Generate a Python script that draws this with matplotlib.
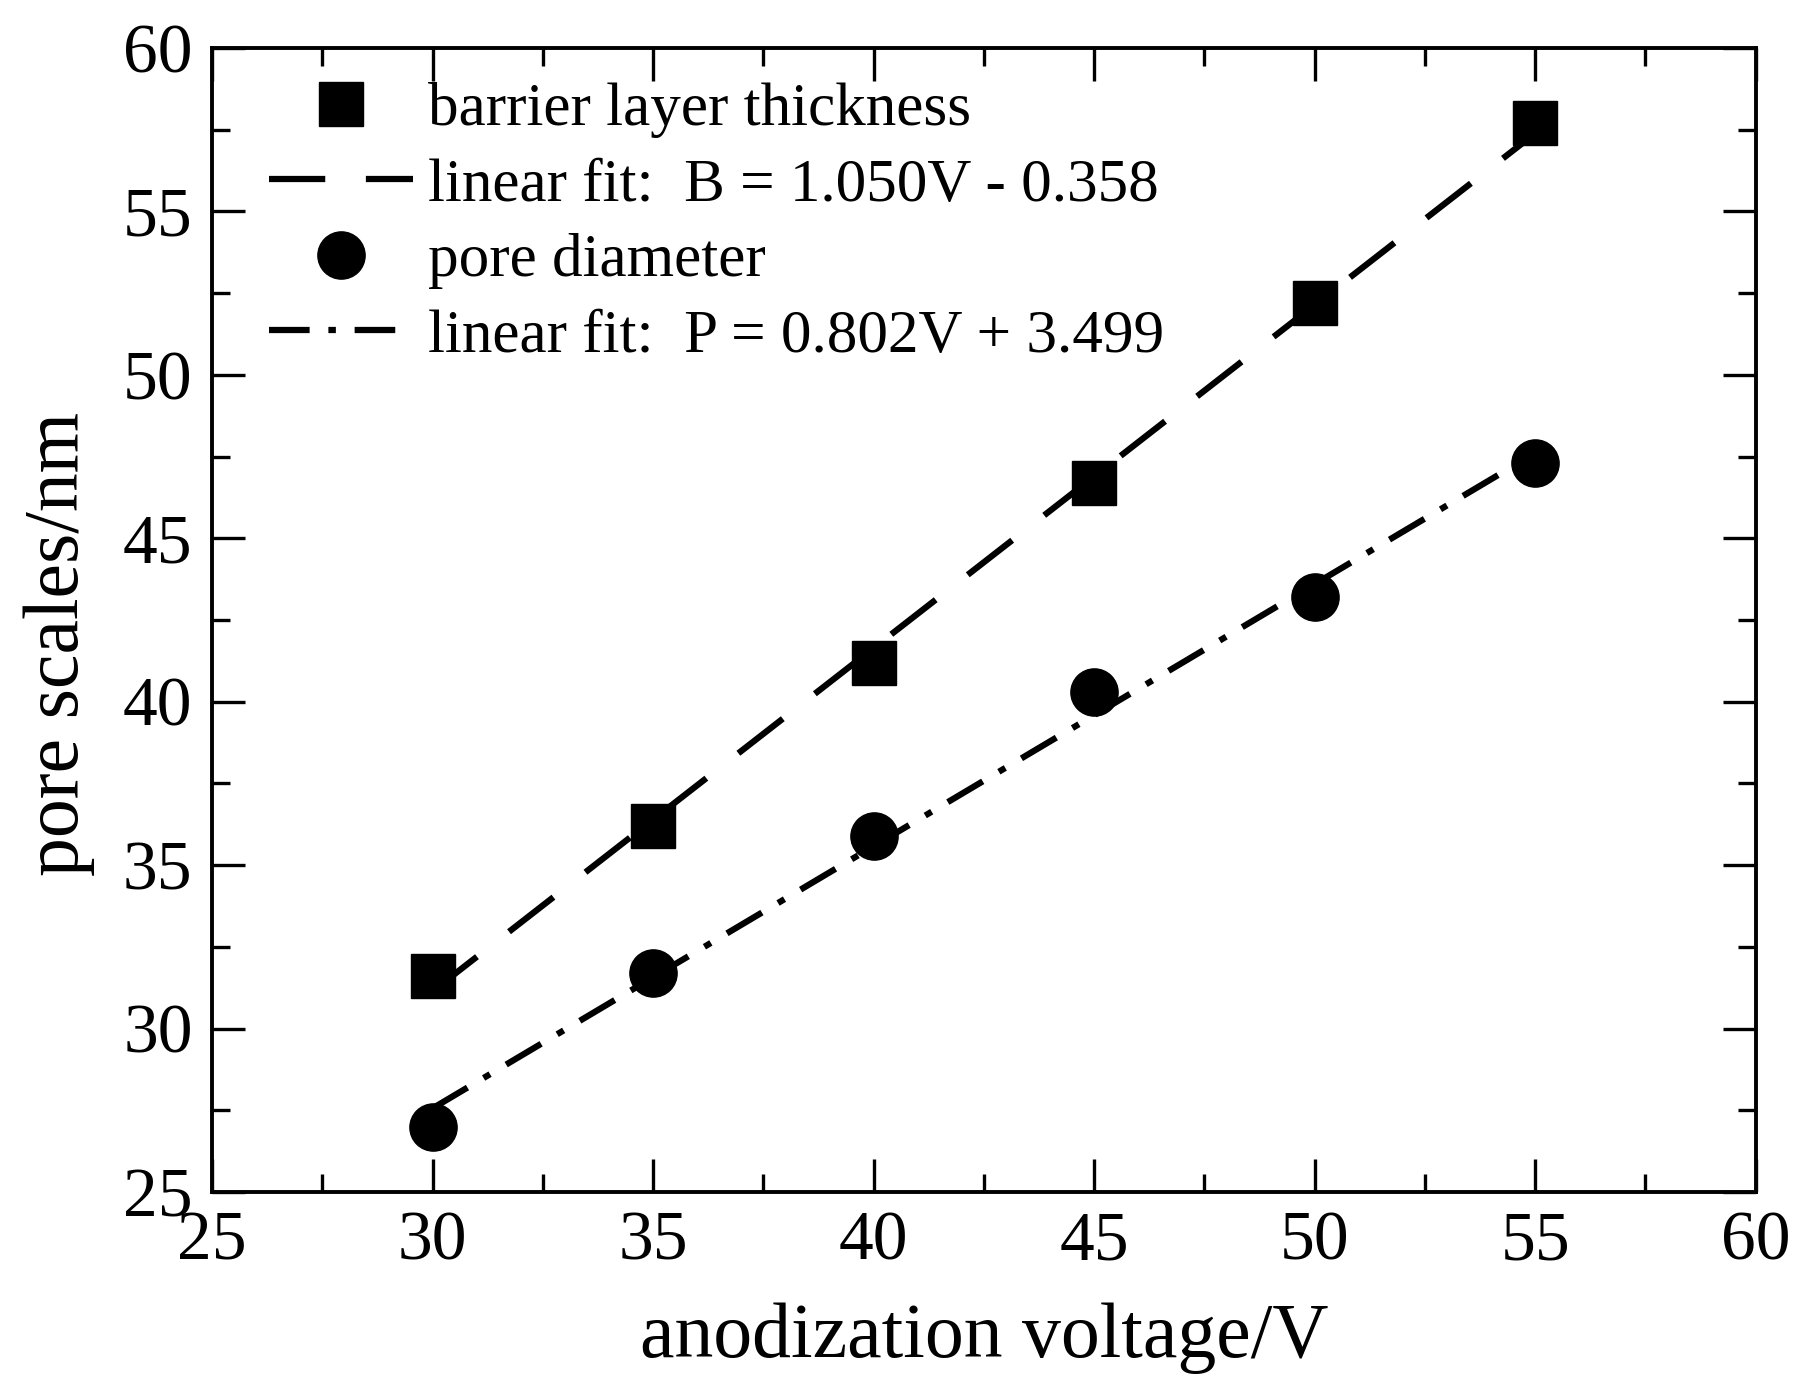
import numpy as np
import matplotlib
matplotlib.use("Agg")
import matplotlib.pyplot as plt
from matplotlib.ticker import MultipleLocator

plt.rcParams['font.family'] = ['Liberation Serif', 'DejaVu Serif']

voltage = [30, 35, 40, 45, 50, 55]
barrier = [31.6, 36.2, 41.2, 46.7, 52.2, 57.7]
pore = [27.0, 31.7, 35.9, 40.3, 43.2, 47.3]

# fit coefficients as printed in the legend
b_slope, b_icpt = 1.050, -0.358
p_slope, p_icpt = 0.802, 3.499

fig = plt.figure(figsize=(17.97, 13.74), dpi=100)
ax = fig.add_axes([0.118, 0.1325, 0.859, 0.8325])

v = np.array([voltage[0], voltage[-1]])
ax.plot(voltage, barrier, 's', color='black', markersize=32, label='barrier layer thickness', zorder=3)
ax.plot(v, b_slope * v + b_icpt, color='black', lw=4.5, dashes=(9, 6.5),
        label='linear fit:  B = 1.050V - 0.358')
ax.plot(voltage, pore, 'o', color='black', markersize=34, label='pore diameter', zorder=3)
ax.plot(v, p_slope * v + p_icpt, color='black', lw=4.5, dashes=(6.5, 3, 1.2, 3),
        label='linear fit:  P = 0.802V + 3.499')

ax.set_xlim(25, 60)
ax.set_ylim(25, 60)
ax.xaxis.set_major_locator(MultipleLocator(5))
ax.yaxis.set_major_locator(MultipleLocator(5))
ax.xaxis.set_minor_locator(MultipleLocator(2.5))
ax.yaxis.set_minor_locator(MultipleLocator(2.5))
ax.tick_params(which='both', direction='in', top=True, right=True, width=2.4)
ax.tick_params(which='major', length=24, labelsize=50, pad=14)
ax.tick_params(which='minor', length=13)
for s in ax.spines.values():
    s.set_linewidth(2.8)

ax.set_xlabel('anodization voltage/V', fontsize=56, labelpad=20)
ax.set_ylabel('pore scales/nm', fontsize=56, labelpad=20, y=0.479)

ax.legend(loc='upper left', bbox_to_anchor=(0.037, 0.970), frameon=False,
          fontsize=44, handlelength=2.35, handletextpad=0.25, labelspacing=0.32,
          borderaxespad=0, borderpad=0, numpoints=1)

fig.savefig('out.png', dpi=100)
